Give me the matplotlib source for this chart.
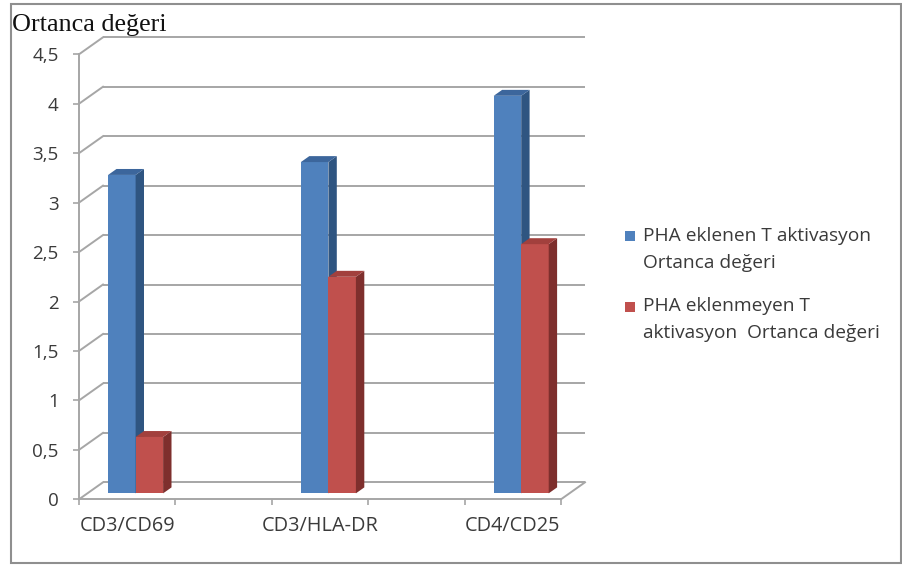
import matplotlib
matplotlib.use("Agg")
import matplotlib.pyplot as plt
from matplotlib.patches import Polygon, Rectangle
from matplotlib.ticker import FixedLocator, FuncFormatter

# ---- data -------------------------------------------------------------
categories = ["CD3/CD69", "CD3/HLA-DR", "CD4/CD25"]
pha_added = [3.22, 3.35, 4.02]        # PHA eklenen T aktivasyon
pha_not_added = [0.57, 2.19, 2.52]    # PHA eklenmeyen T aktivasyon
series_labels = ["PHA eklenen T aktivasyon\nOrtanca değeri",
                 "PHA eklenmeyen T\naktivasyon  Ortanca değeri"]
y_ticks = [0, 0.5, 1, 1.5, 2, 2.5, 3, 3.5, 4, 4.5]
y_title = "Ortanca değeri"

# ---- style -----------------------------------------------------------
W, H = 902, 565
FONT = "Open Sans"
TXT = "#3a3a3a"
GRID = "#a6a6a6"
face_colors = [("#4f81bd", "#2f5581", "#3c669c"),
               ("#c0504d", "#7e2f2d", "#a2403d")]

fig = plt.figure(figsize=(W / 100, H / 100), dpi=100)

# front plane of the plot box, in pixels
x_left, x_right = 79, 561
y_zero, y_top = 499.3, 54.3
ax = fig.add_axes([x_left / W, 1 - y_zero / H,
                   (x_right - x_left) / W, (y_zero - y_top) / H])
n_slots = 5
ax.set_xlim(0, n_slots)
ax.set_ylim(0, 4.5)
ax.set_facecolor("none")

# oblique depth of the box, in data units
DX = 24 / ((x_right - x_left) / n_slots)
DY = 17 / ((y_zero - y_top) / 4.5)

# back wall gridlines and side-wall diagonals
for v in y_ticks:
    ax.plot([DX, n_slots + DX], [v + DY, v + DY], color=GRID, lw=1.4,
            clip_on=False, zorder=1, solid_capstyle="butt")
    ax.plot([0, DX], [v, v + DY], color=GRID, lw=1.4, clip_on=False,
            zorder=1)
# floor right edge
ax.plot([n_slots, n_slots + DX], [0, DY], color=GRID, lw=1.4,
        clip_on=False, zorder=1)

# spines / ticks of the front plane
for s in ["top", "right"]:
    ax.spines[s].set_visible(False)
for s in ["left", "bottom"]:
    ax.spines[s].set_color(GRID)
    ax.spines[s].set_linewidth(1.4)
    ax.spines[s].set_zorder(1)

ax.yaxis.set_major_locator(FixedLocator(y_ticks))
ax.yaxis.set_major_formatter(
    FuncFormatter(lambda v, p: (f"{v:g}").replace(".", ",")))
ax.tick_params(axis="y", length=4.5, width=1.2, color=GRID, pad=10,
               labelsize=13.5, labelcolor=TXT)
for t in ax.get_yticklabels():
    t.set_fontfamily(FONT)

ax.xaxis.set_major_locator(FixedLocator(range(n_slots + 1)))
ax.xaxis.set_major_formatter(FuncFormatter(lambda v, p: ""))
centers = [2 * i + 0.5 for i in range(len(categories))]
ax.xaxis.set_minor_locator(FixedLocator(centers))
ax.set_xticklabels(categories, minor=True)
ax.tick_params(axis="x", which="major", length=4.5, width=1.2,
               color=GRID)
ax.tick_params(axis="x", which="minor", length=0, pad=12,
               labelsize=14.3, labelcolor=TXT)
for t in ax.get_xticklabels(minor=True):
    t.set_fontfamily(FONT)

# ---- 3-D columns ------------------------------------------------------
bar_w = 27.5 / ((x_right - x_left) / n_slots)
f_front, f_back = 0.35, 0.70
dx_front, dy_front = f_front * DX, f_front * DY
ddx, ddy = (f_back - f_front) * DX, (f_back - f_front) * DY

for i, c in enumerate(centers):
    for j, vals in enumerate([pha_added, pha_not_added]):
        v = vals[i]
        front, side, top = face_colors[j]
        x0 = c - bar_w + j * bar_w + dx_front
        x1 = x0 + bar_w
        b = dy_front
        ax.bar(x0, v, width=bar_w, bottom=b, align="edge", color=front,
               edgecolor="none", zorder=3 + i * 3 + j)
        ax.add_patch(Polygon([(x1, b), (x1 + ddx, b + ddy),
                              (x1 + ddx, b + v + ddy), (x1, b + v)],
                             closed=True, facecolor=side, edgecolor="none",
                             zorder=3 + i * 3 + j, clip_on=False))
        ax.add_patch(Polygon([(x0, b + v), (x1, b + v),
                              (x1 + ddx, b + v + ddy), (x0 + ddx, b + v + ddy)],
                             closed=True, facecolor=top, edgecolor="none",
                             zorder=3 + i * 3 + j, clip_on=False))

# ---- axis title -------------------------------------------------------
fig.text(12.5 / W, 1 - 31 / H, y_title, fontfamily="Liberation Serif",
         fontsize=18.8, color="#111111", ha="left", va="baseline")

# ---- legend -----------------------------------------------------------
leg_rows = [(231, 241), (302, 311)]
for j, (label, (sq_top, base)) in enumerate(zip(series_labels, leg_rows)):
    fig.patches.append(Rectangle((625 / W, 1 - (sq_top + 10) / H),
                                 10 / W, 10 / H, transform=fig.transFigure,
                                 facecolor=face_colors[j][0],
                                 edgecolor="none"))
    for k, line in enumerate(label.split("\n")):
        fig.text(643 / W, 1 - (base + k * 27.5) / H, line, fontfamily=FONT,
                 fontsize=13.8, color=TXT, ha="left", va="baseline")

# ---- outer frame ------------------------------------------------------
fig.patches.append(Rectangle((11 / W, 1 - 562.5 / H), 889.5 / W,
                             558.5 / H, transform=fig.transFigure,
                             facecolor="none", edgecolor="#8f8f8f",
                             linewidth=1.5))

fig.savefig("out.png", dpi=100)
